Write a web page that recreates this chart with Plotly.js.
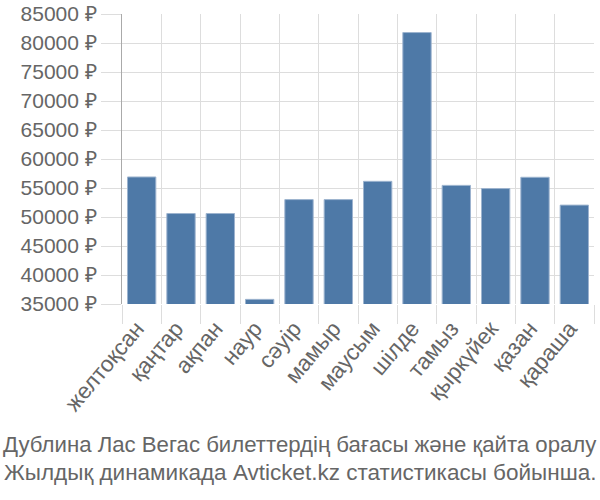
<!DOCTYPE html>
<html>
<head>
<meta charset="utf-8">
<script src="https://cdn.plot.ly/plotly-3.0.1.min.js"></script>
<style>html,body{margin:0;padding:0;background:#fff;}#chart{width:600px;height:500px;}</style>
</head>
<body>
<div id="chart"></div>
<script>
const months = ["желтоқсан","қаңтар","ақпан","наур","сәуір","мамыр","маусым","шілде","тамыз","қыркүйек","қазан","қараша"];
const prices = [56900, 50600, 50600, 35800, 53000, 53000, 56150, 81800, 55450, 54900, 56850, 52050];
const yTicks = [35000,40000,45000,50000,55000,60000,65000,70000,75000,80000,85000];
const yTickText = yTicks.map(v => v + " ₽");
const titleLines = ["Дублина Лас Вегас билеттердің бағасы және қайта оралу", "Жылдық динамикада Avticket.kz статистикасы бойынша."];

const data = [{
  type: "bar",
  x: months,
  y: prices,
  marker: {color: "#4e79a7", line: {color: "#9db4cf", width: 1}},
  hoverinfo: "none"
}];

// plot area: left 122, width 472; top 14, height 290
const cx = (300 - 122) / 472;
const layout = {
  width: 600, height: 500,
  margin: {l: 122, r: 6, t: 14, b: 196},
  paper_bgcolor: "#fff", plot_bgcolor: "#fff",
  font: {family: "Liberation Sans, Arial, sans-serif", color: "#666", size: 20},
  bargap: 0.28,
  showlegend: false,
  annotations: [
    {text: titleLines[0], xref: "paper", yref: "paper", x: cx, y: (304 - 444) / 290,
     xanchor: "center", yanchor: "middle", showarrow: false,
     font: {size: 22.2, color: "#666", family: "Liberation Sans, Arial, sans-serif"}},
    {text: titleLines[1], xref: "paper", yref: "paper", x: cx, y: (304 - 472) / 290,
     xanchor: "center", yanchor: "middle", showarrow: false,
     font: {size: 22.5, color: "#666", family: "Liberation Sans, Arial, sans-serif"}}
  ],
  xaxis: {
    type: "category",
    tickson: "boundaries",
    showgrid: true, gridcolor: "#ddd", gridwidth: 1,
    ticks: "outside", ticklen: 19, tickcolor: "#ddd",
    tickangle: -50,
    ticklabelstandoff: 6,
    ticklabelshift: -5,
    tickfont: {size: 22.5, color: "#666"},
    showline: false, zeroline: false
  },
  yaxis: {
    range: [35000, 85000],
    tickvals: yTicks, ticktext: yTickText,
    showgrid: true, gridcolor: "#ddd", gridwidth: 1,
    ticks: "outside", ticklen: 20, tickcolor: "#ddd",
    tickfont: {size: 21, color: "#666"},
    showline: true, linecolor: "#aaa", linewidth: 1,
    zeroline: false
  }
};

Plotly.newPlot("chart", data, layout, {displayModeBar: false, staticPlot: true});
</script>
</body>
</html>
